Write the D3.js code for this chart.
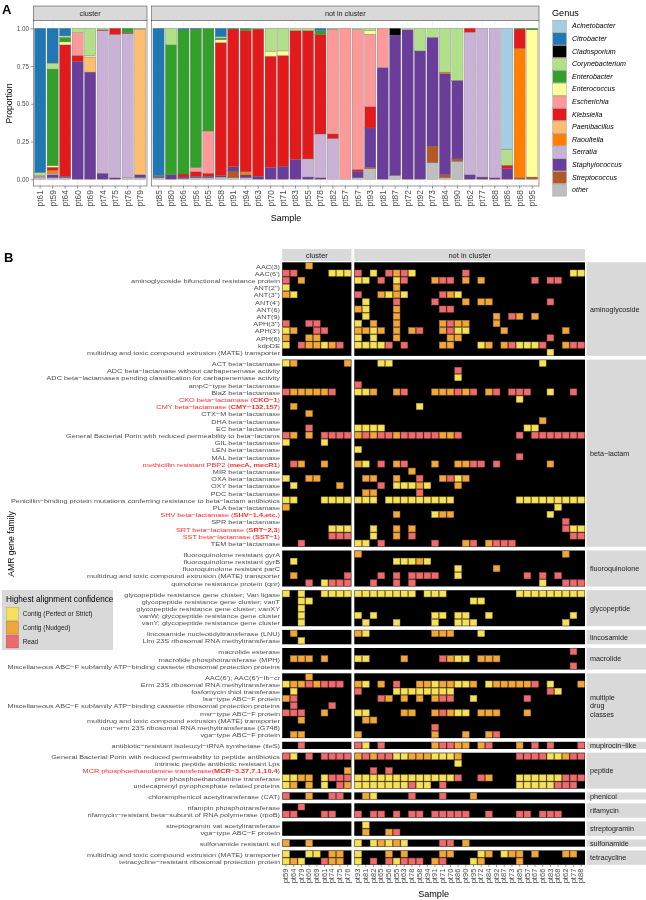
<!DOCTYPE html>
<html><head><meta charset="utf-8">
<script src="https://cdn.jsdelivr.net/npm/d3@7/dist/d3.min.js"></script>
<style>body{margin:0;background:#fff}svg{display:block;will-change:transform}</style>
</head><body><svg id="c" width="646" height="900"></svg>
<script>
// ---------------- Panel A data ----------------
const clusterSamplesA = ["pt61","pt59","pt64","pt60","pt69","pt74","pt75","pt76","pt79"];
const nonClusterSamplesA = ["pt85","pt80","pt66","pt56","pt65","pt58","pt91","pt94","pt63","pt70","pt71","pt83","pt55","pt78","pt82","pt57","pt67","pt93","pt81","pt87","pt72","pt92","pt73","pt84","pt90","pt62","pt77","pt88","pt86","pt68","pt95"];
const genera = ["Acinetobacter","Citrobacter","Cladosporium","Corynebacterium","Enterobacter","Enterococcus","Escherichia","Klebsiella","Paenibacillus","Raoultella","Serratia","Staphylococcus","Streptococcus","other"];
const genusColors = ["#A6CEE3","#1F78B4","#000000","#B2DF8A","#33A02C","#FFFF99","#FB9A99","#E31A1C","#FDBF6F","#FF7F00","#CAB2D6","#6A3D9A","#B15928","#BEBEBE"];
// proportions per sample, in the order clusterSamplesA then nonClusterSamplesA
const acinetobacter  = [0,0,0,0,0,0,0,0,0, 0,0,0,0,0,0,0,0,0,0,0,0,0,0,0,0,0,0,0,0,0,0,0,0,0,0,0,0,.80,0,0];
const citrobacter    = [.955,.23,.05,0,0,0,0,0,0, .975,0,.01,.005,0,.055,0,0,0,0,0,0,0,.015,0,0,0,0,0,0,0,0,0,0,0,0,0,0,0,0,0];
const cladosporium   = [0,0,0,0,0,0,0,0,0, 0,0,0,0,0,0,0,0,0,0,0,0,0,0,0,0,0,0,0,.045,0,0,0,0,0,0,0,0,0,0,0];
const corynebacterium= [.02,.04,.01,.03,.18,.01,0,0,.005, 0,.11,0,0,0,.01,0,0,.005,.151,.15,.015,.015,0,.005,0,.01,.015,0,0,.01,.15,.06,.29,.345,0,0,0,.107,0,0];
const enterobacter   = [0,.64,.03,0,0,0,0,.03,0, .005,.86,.955,.915,.68,.01,.005,.015,0,0,0,0,0,.025,0,0,0,0,0,0,0,0,0,0,0,0,0,0,0,.005,.01];
const enterococcus   = [0,.01,.02,0,.01,0,0,0,0, 0,0,0,0,0,.02,0,0,0,.034,.03,0,0,0,0,0,0,.025,0,0,0,0,0,0,0,0,0,0,0,0,.975];
const escherichia    = [.005,0,0,.15,0,0,0,0,0, 0,0,0,.03,.28,0,0,0,0,0,0,0,0,0,.695,1.0,.925,.48,.26,0,0,0,0,0,0,0,0,0,0,0,0];
const klebsiella     = [0,.02,.87,.04,0,.005,.04,.005,0, 0,0,.02,.03,.02,.88,.91,.935,.975,.737,.733,.854,.85,.66,.03,0,.015,.14,0,0,0,0,0,0,0,.025,0,0,.023,.128,0];
const paenibacillus  = [0,0,0,0,.10,0,0,0,.965, 0,0,0,0,0,0,0,0,0,0,0,0,0,0,0,0,0,0,0,0,0,0,0,0,0,0,0,0,0,0,0];
const raoultella     = [0,.02,0,0,0,0,0,0,0, 0,0,0,0,0,0,0,.02,0,0,0,0,0,0,0,0,0,0,0,0,0,0,0,.01,0,0,0,0,0,.857,0];
const serratia       = [.01,.01,0,0,0,.945,.95,.955,0, 0,0,0,0,0,0,0,0,0,0,0,0,.12,.29,.27,0,0,0,0,0,0,0,0,0,0,.945,.985,.99,0,0,0];
const staphylococcus = [0,.02,.01,.78,.71,.04,.01,0,.02, .01,.03,.01,.01,.01,.01,.03,.02,.02,.078,.087,.131,.015,.01,0,0,.04,.26,.74,.93,.99,.85,.72,.67,.52,.03,.015,.01,.07,0,0];
const streptococcus  = [0,0,0,0,0,0,0,0,0, 0,0,0,0,0,0,.045,0,0,0,0,0,0,0,0,0,0,.01,0,0,0,0,.11,.02,.015,0,0,0,0,.01,.015];
const otherGenus     = [.01,.01,.01,0,0,0,0,.01,.01, .01,0,.005,.01,.01,.015,.01,.01,0,0,0,0,0,0,0,0,.01,.07,0,.025,0,0,.11,.01,.12,0,0,0,0,0,0];
const genusValues = [acinetobacter,citrobacter,cladosporium,corynebacterium,enterobacter,enterococcus,escherichia,klebsiella,paenibacillus,raoultella,serratia,staphylococcus,streptococcus,otherGenus];
const yTicksA = [0,0.25,0.5,0.75,1];

// ---------------- Panel B data ----------------
const clusterSamplesB = ["pt59","pt64","pt79","pt60","pt69","pt61","pt74","pt75","pt76"];
const nonClusterSamplesB = ["pt93","pt81","pt82","pt65","pt56","pt55","pt63","pt78","pt58","pt94","pt91","pt71","pt70","pt86","pt90","pt95","pt72","pt84","pt92","pt87","pt73","pt85","pt57","pt67","pt66","pt83","pt68","pt62","pt77","pt88"];
const amrFamilies = ["aminoglycoside","beta\u2212lactam","fluoroquinolone","glycopeptide","lincosamide","macrolide","multiple\ndrug\nclasses","mupirocin\u2212like","peptide","phenicol","rifamycin","streptogramin","sulfonamide","tetracycline"];
const confidenceLevels = ["Contig (Perfect or Strict)","Contig (Nudged)","Read"];
const confidenceCodes = ["y","o","r"];
const confidenceColors = ["#F7E15B","#F1A63C","#EC6B6C"];
// [family index, gene label (**bold**), cells: 9 cluster samples then 3 groups of 10 non-cluster samples]
const amrGenes = [
 [0,"AAC(3)","...o..... .......... .......... .........."],
 [0,"AAC(6')","rr....yyy r.y.rory.. ....r..... ........yy"],
 [0,"aminoglycoside bifunctional resistance protein","r.o...... yy.r.yr... orr.o.o... ...r.rr..."],
 [0,"ANT(2'')","y........ .....o.... .......... .........."],
 [0,"ANT(3'')","oy....... r..oyoy... .roy...... .........."],
 [0,"ANT(4')","......... .y...r.... r...o.oo.. .....r...."],
 [0,"ANT(6)","......... oy...o.... .rr....... .........."],
 [0,"ANT(9)","......... .y...o.... ........o. ro.o......"],
 [0,"APH(3'')","r..rr.... y.o..o.... .oroo...o. .........."],
 [0,"APH(3')","yo..rr... ooyo.o.or. .oryy....o .......o.."],
 [0,"APH(6)","o..oo.... y.y..o.... ..oo...... .....r...."],
 [0,"kdpDE","y.rooyor. yyyyr.r... .oo...yo.o ryyyr..orr"],
 [0,"multidrug and toxic compound extrusion (MATE) transporter","......... .......... .......... .....y...."],
 [1,"ACT beta\u2212lactamase","yo......o ...yy..... .......... ....y....."],
 [1,"ADC beta\u2212lactamase without carbapenemase activity","......... .......... ...r...... .........."],
 [1,"ADC beta\u2212lactamases pending classification for carbapenemase activity","......... .......... ...y...... .........."],
 [1,"ampC\u2212type beta\u2212lactamase","......... r......... .......... .........."],
 [1,"BlaZ beta\u2212lactamase","rooooor.. yyo..or... oooror.or. rrr..y..r."],
 [1,"CKO beta\u2212lactamase (**CKO\u22121**)","......... .......... .......... .y........"],
 [1,"CMY beta\u2212lactamase (**CMY\u2212132,157**)",".o....... ........y. .......... .........."],
 [1,"CTX\u2212M beta\u2212lactamase","...o..... .......... .......... .........."],
 [1,"DHA beta\u2212lactamase","......... .......... .......... ....o....."],
 [1,"EC beta\u2212lactamase","...r..... yyyy...... .......... ..yy......"],
 [1,"General Bacterial Porin with reduced permeability to beta\u2212lactams","ro.o.rrrr ororrorrrr roor...... .r.rrrrrrr"],
 [1,"GIL beta\u2212lactamase","y....y... .......... .......... .........."],
 [1,"LEN beta\u2212lactamase","......... y......... .......... .........."],
 [1,"MAL beta\u2212lactamase","......... .......... .......... .r........"],
 [1,"methicillin resistant PBP2 (**mecA, mecR1**)",".ro..o... oy.r.or... o..oorr.r. .....o...."],
 [1,"MIR beta\u2212lactamase","......... .......o.. .......... .........."],
 [1,"OXA beta\u2212lactamase","y..oo.... .oo..o..r. .oryo..... .........."],
 [1,"OXY beta\u2212lactamase",".y.....o. ...r.yyyoy ...o...... .........."],
 [1,"PDC beta\u2212lactamase","......... .oo.....r. .......... .........."],
 [1,"Penicillin\u2212binding protein mutations conferring resistance to beta\u2212lactam antibiotics","yy...yyyy yyy.yyyyyy yyy....... .yyyyyyyyy"],
 [1,"PLA beta\u2212lactamase","o........ .......... .......... ......y..."],
 [1,"SHV beta\u2212lactamase (**SHV\u22121,4,etc.**)","......... .....o.... yoo....... .....y...."],
 [1,"SPR beta\u2212lactamase","......... .......... .......... .......r.."],
 [1,"SRT beta\u2212lactamase (**SRT\u22122,3**)","......yyy ..y..o.o.. .......... .......ryy"],
 [1,"SST beta\u2212lactamase (**SST\u22121**)","......rrr ..y..o.r.. .......... ........rr"],
 [1,"TEM beta\u2212lactamase","..r...... yy.r...... r...or.orr r........."],
 [2,"fluoroquinolone resistant gyrA","......... o......... .......... .......o.."],
 [2,"fluoroquinolone resistant gyrB",".y....... .....yyyoy .......... .........."],
 [2,"fluoroquinolone resistant parC","......... .......... ...y....o. .........."],
 [2,"multidrug and toxic compound extrusion (MATE) transporter",".o......r ...r.r.rrr r..y...... ..r.r.r..."],
 [2,"quinolone resistance protein (qnr)","...r.yrrr ..r..r.r.. .......... ....y..rrr"],
 [3,"glycopeptide resistance gene cluster; Van ligase","y.y..yyyy yyyyyyyy.y yy........ .yyyyyyyyy"],
 [3,"glycopeptide resistance gene cluster; vanT","..yy..... .......... .....yy... .........."],
 [3,"glycopeptide resistance gene cluster; vanXY","..y...... .......... .......... .........."],
 [3,"vanW; glycopeptide resistance gene cluster","..y...... y.y....... yy.yy..y.. ........y."],
 [3,"vanY; glycopeptide resistance gene cluster","..y...... .y...y.... y..yyy.... .......y.."],
 [4,"lincosamide nucleotidyltransferase (LNU)",".o....... oy........ ooo...y... .........."],
 [4,"Llm 23S ribosomal RNA methyltransferase","..y...... .......... .......... .........."],
 [5,"macrolide esterase","......... .......... .......... ........r."],
 [5,"macrolide phosphotransferase (MPH)",".ooo.o... yy....o... .royy.ooo. .........."],
 [5,"Miscellaneous ABC\u2212F subfamily ATP\u2212binding cassette ribosomal protection proteins","......... .......... .......... ........r."],
 [6,"AAC(6'); AAC(6')\u2212Ib\u2212cr","...o..... .......... .......... .........."],
 [6,"Erm 23S ribosomal RNA methyltransferase","yoororrr. oy.o.r..oo yooyyo.yoo ooor.y...o"],
 [6,"fosfomycin thiol transferase",".y....... r....yyyyy yyy....... .....ry..."],
 [6,"lsa\u2212type ABC\u2212F protein","or....... ...ro.o.o. orr..y.... ..r......."],
 [6,"Miscellaneous ABC\u2212F subfamily ATP\u2212binding cassette ribosomal protection proteins",".r....r.. .......... .......... .........."],
 [6,"msr\u2212type ABC\u2212F protein","rrr..o... yy....oo.. oroyy.ooo. ..o......."],
 [6,"multidrug and toxic compound extrusion (MATE) transporter","..o...... .oo....... .......... .........."],
 [6,"non\u2212erm 23S ribosomal RNA methyltransferase (G748)","......... .......... r......... .........."],
 [6,"vga\u2212type ABC\u2212F protein",".oo...... o......... o...o..or. .........."],
 [7,"antibiotic\u2212resistant isoleucyl\u2212tRNA synthetase (ileS)","..r...... ry.r...... orroo.or.. .o.r.r...r"],
 [8,"General Bacterial Porin with reduced permeability to peptide antibiotics","ry.r.rrrr ororryyooo yyyo...... .rrrryyorr"],
 [8,"intrinsic peptide antibiotic resistant Lps","......... .......... ...y...... .........."],
 [8,"MCR phosphoethanolamine transferase(**MCR\u22123.37,7.1,10.4**)","........o ..r.r..... .......... .........."],
 [8,"pmr phosphoethanolamine transferase","yyoo.yrrr yyyyyyyyyy yyyr..ro.. .yyyyyyrrr"],
 [8,"undecaprenyl pyrophosphate related proteins","yo.o.y.ro yyyyyyyryy .r........ .yyyyyrrr."],
 [9,"chloramphenicol acetyltransferase (CAT)","r..o..rr. .oy....r.. .r...o.... .........."],
 [10,"rifampin phosphotransferase","..r...... .......... .......... .........."],
 [10,"rifamycin\u2212resistant beta\u2212subunit of RNA polymerase (rpoB)","rr...rr.. r.rr.r.rr. rrrrr..r.. .rr.rrr..."],
 [11,"streptogramin vat acetyltransferase","......... .y........ .......... .........."],
 [11,"vga\u2212type ABC\u2212F protein","......... .o..or.... .......... .........."],
 [12,"sulfonamide resistant sul","o..o..... y.yoyoy... .rr.o..... .........."],
 [13,"multidrug and toxic compound extrusion (MATE) transporter","y..yy.oo. y...o.o... .oo...yo.y oo.o...oo."],
 [13,"tetracycline\u2212resistant ribosomal protection protein","yoy..roo. y.r.ryrrr. or...yo... .o........"]
];

// ---------------- Drawing ----------------
const FONT = "'Liberation Sans', Arial, Helvetica, sans-serif";
const svg = d3.select("#c").attr("font-family", FONT);

// ===== Panel A =====
const samplesA = clusterSamplesA.concat(nonClusterSamplesA);
const tableA = samplesA.map((s, i) => {
  const o = {sample: s};
  genera.forEach((g, k) => o[g] = genusValues[k][i]);
  return o;
});
const seriesA = d3.stack().keys(genera.slice().reverse()).offset(d3.stackOffsetExpand)(tableA);
const colorA = d3.scaleOrdinal().domain(genera).range(genusColors);
const yA = d3.scaleLinear().domain([0, 1]).range([179.3, 28.3]);
const panelTopA = 20.3, panelBotA = 186;

svg.append("text").attr("x", 2).attr("y", 14).attr("font-size", 13).attr("font-weight", "bold").text("A");

const facetsA = [
  {label: "cluster", samples: clusterSamplesA, range: [33.3, 147]},
  {label: "not in cluster", samples: nonClusterSamplesA, range: [151.7, 539]}
];
facetsA.forEach((f, fi) => {
  const [x0, x1] = f.range;
  const x = d3.scaleBand().domain(f.samples).range(f.range).paddingInner(0.1).paddingOuter(0.1);
  const g = svg.append("g");
  g.append("rect").attr("x", x0).attr("y", 6).attr("width", x1 - x0).attr("height", panelTopA - 6)
    .attr("fill", "#D9D9D9").attr("stroke", "#333").attr("stroke-width", 0.5);
  g.append("text").attr("x", (x0 + x1) / 2).attr("y", 13.2).attr("text-anchor", "middle")
    .attr("dominant-baseline", "central").attr("font-size", 7.2).attr("fill", "#1A1A1A").text(f.label);
  g.append("rect").attr("x", x0).attr("y", panelTopA).attr("width", x1 - x0).attr("height", panelBotA - panelTopA).attr("fill", "#fff");
  [0.125, 0.375, 0.625, 0.875].forEach(v => g.append("line").attr("x1", x0).attr("x2", x1).attr("y1", yA(v)).attr("y2", yA(v)).attr("stroke", "#F2F2F2").attr("stroke-width", 0.3));
  yTicksA.forEach(v => g.append("line").attr("x1", x0).attr("x2", x1).attr("y1", yA(v)).attr("y2", yA(v)).attr("stroke", "#EBEBEB").attr("stroke-width", 0.6));
  f.samples.forEach(s => g.append("line").attr("x1", x(s) + x.bandwidth() / 2).attr("x2", x(s) + x.bandwidth() / 2)
    .attr("y1", panelTopA).attr("y2", panelBotA).attr("stroke", "#EBEBEB").attr("stroke-width", 0.6));
  seriesA.forEach(ser => {
    ser.forEach((d, i) => {
      const s = samplesA[i];
      if (!f.samples.includes(s) || d[1] - d[0] <= 0) return;
      g.append("rect").attr("x", x(s)).attr("width", x.bandwidth())
        .attr("y", yA(d[1])).attr("height", yA(d[0]) - yA(d[1]))
        .attr("fill", colorA(ser.key)).attr("stroke", "#6b6b6b").attr("stroke-width", 0.3);
    });
  });
  g.append("rect").attr("x", x0).attr("y", panelTopA).attr("width", x1 - x0).attr("height", panelBotA - panelTopA)
    .attr("fill", "none").attr("stroke", "#333").attr("stroke-width", 0.5);
  const ax = g.append("g").attr("transform", `translate(0,${panelBotA})`)
    .call(d3.axisBottom(x).tickSize(2.7).tickSizeOuter(0));
  ax.select(".domain").remove();
  ax.selectAll("line").attr("stroke", "#333").attr("stroke-width", 0.5);
  ax.selectAll("text").attr("transform", "rotate(-90)").attr("text-anchor", "end")
    .attr("x", -4.2).attr("y", 0).attr("dy", "0.35em").attr("font-size", 8.4).attr("fill", "#4D4D4D").attr("font-family", FONT);
  if (fi === 0) {
    const ay = g.append("g").attr("transform", `translate(${x0},0)`)
      .call(d3.axisLeft(yA).tickValues(yTicksA).tickFormat(d3.format(".2f")).tickSize(2.7).tickSizeOuter(0));
    ay.select(".domain").remove();
    ay.selectAll("line").attr("stroke", "#333").attr("stroke-width", 0.5);
    ay.selectAll("text").attr("font-size", 6.3).attr("fill", "#4D4D4D").attr("font-family", FONT).attr("x", -4.2);
  }
});
svg.append("text").attr("transform", "translate(9,103.5) rotate(-90)").attr("text-anchor", "middle")
  .attr("dominant-baseline", "central").attr("font-size", 8.7).text("Proportion");
svg.append("text").attr("x", 286).attr("y", 221).attr("text-anchor", "middle").attr("font-size", 9).text("Sample");

// legend A
const legA = svg.append("g");
legA.append("text").attr("x", 552).attr("y", 16).attr("font-size", 9.1).text("Genus");
genera.forEach((gn, i) => {
  const yy = 20 + i * 12.6;
  legA.append("rect").attr("x", 552.8).attr("y", yy + 0.3).attr("width", 13.6).attr("height", 12)
    .attr("fill", colorA(gn)).attr("stroke", "#8c8c8c").attr("stroke-width", 0.4);
  legA.append("text").attr("x", 572).attr("y", yy + 6.3).attr("dominant-baseline", "central")
    .attr("font-size", 7.1).attr("font-style", "italic").text(gn);
});

// ===== Panel B =====
svg.append("text").attr("x", 4).attr("y", 262).attr("font-size", 13).attr("font-weight", "bold").text("B");
const xC = d3.scaleBand().domain(clusterSamplesB).range([282.2, 351.4]);
const xN = d3.scaleBand().domain(nonClusterSamplesB).range([354.3, 585]);
const facetsB = [{label: "cluster", x: xC}, {label: "not in cluster", x: xN}];
const colorB = d3.scaleOrdinal().domain(confidenceCodes).range(confidenceColors);
const topB = 262.3, rowH = 7.2, famGap = 3.7, stripX0 = 586.5;

facetsB.forEach(f => {
  const [a, b] = f.x.range();
  svg.append("rect").attr("x", a).attr("y", 249).attr("width", b - a).attr("height", 12).attr("fill", "#D9D9D9");
  svg.append("text").attr("x", (a + b) / 2).attr("y", 255).attr("text-anchor", "middle").attr("dominant-baseline", "central")
    .attr("font-size", 7.5).attr("fill", "#1A1A1A").text(f.label);
});

function addLabel(sel, label) {
  const parts = label.split("**");
  parts.forEach((p, i) => {
    if (!p) return;
    const t = sel.append("tspan").text(p);
    if (i % 2 === 1) t.attr("font-weight", "bold");
  });
}

let yCur = topB;
amrFamilies.forEach((fam, fi) => {
  const rows = amrGenes.filter(r => r[0] === fi);
  const h = rows.length * rowH;
  const y = d3.scaleBand().domain(d3.range(rows.length)).range([yCur, yCur + h]);
  facetsB.forEach(f => {
    const [a, b] = f.x.range();
    svg.append("rect").attr("x", a).attr("y", yCur).attr("width", b - a).attr("height", h).attr("fill", "#000");
  });
  svg.append("rect").attr("x", stripX0).attr("y", yCur).attr("width", 646 - stripX0).attr("height", h).attr("fill", "#D9D9D9");
  const lines = fam.split("\n");
  const st = svg.append("text").attr("font-size", 7.2).attr("fill", "#1A1A1A");
  lines.forEach((ln, li) => {
    st.append("tspan").attr("x", 590).attr("y", yCur + h / 2 + (li - (lines.length - 1) / 2) * 8.5).attr("dominant-baseline", "central").text(ln);
  });
  rows.forEach((r, ri) => {
    const label = r[1];
    const red = label.includes("**");
    const t = svg.append("text")
      .attr("transform", `translate(280,${y(ri) + rowH / 2}) scale(1.2,1)`)
      .attr("x", 0).attr("y", 0).attr("text-anchor", "end")
      .attr("dominant-baseline", "central").attr("font-size", 6.1).attr("fill", red ? "#FF2B2B" : "#4D4D4D");
    addLabel(t, label);
    const cells = r[2].replace(/ /g, "");
    cells.split("").forEach((c, ci) => {
      if (c === ".") return;
      const inC = ci < clusterSamplesB.length;
      const xs = inC ? xC : xN;
      const s = inC ? clusterSamplesB[ci] : nonClusterSamplesB[ci - clusterSamplesB.length];
      const col = colorB(c);
      svg.append("rect").attr("x", xs(s) + 0.5).attr("y", y(ri) + 0.5).attr("width", xs.bandwidth() - 1).attr("height", rowH - 1)
        .attr("fill", col).attr("stroke", d3.color(col).darker(0.8)).attr("stroke-width", 0.5);
    });
  });
  yCur += h + famGap;
});
const botB = yCur - famGap;
facetsB.forEach(f => {
  const ax = svg.append("g").attr("transform", `translate(0,${botB})`).call(d3.axisBottom(f.x).tickSize(2.2).tickSizeOuter(0));
  ax.select(".domain").remove();
  ax.selectAll("line").attr("stroke", "#333").attr("stroke-width", 0.5);
  ax.selectAll("text").attr("transform", "rotate(-90) scale(1.2,1)").attr("text-anchor", "end")
    .attr("x", -3.2).attr("y", 0).attr("dy", "0.35em").attr("font-size", 6.3).attr("fill", "#4D4D4D").attr("font-family", FONT);
});
svg.append("text").attr("x", 433.6).attr("y", 897).attr("text-anchor", "middle").attr("font-size", 9.1).text("Sample");
svg.append("text").attr("transform", "translate(11,544) rotate(-90)").attr("text-anchor", "middle")
  .attr("dominant-baseline", "central").attr("font-size", 8.6).text("AMR gene family");

// legend B
const legB = svg.append("g");
legB.append("rect").attr("x", 2).attr("y", 590).attr("width", 111).attr("height", 60).attr("fill", "#D9D9D9");
legB.append("text").attr("x", 6).attr("y", 599.5).attr("dominant-baseline", "central").attr("font-size", 8.2).text("Highest alignment confidence");
confidenceLevels.forEach((lv, i) => {
  const yy = 607 + i * 13.9;
  const col = confidenceColors[i];
  legB.append("rect").attr("x", 6.3).attr("y", yy + 0.3).attr("width", 12).attr("height", 12.8)
    .attr("fill", col).attr("stroke", d3.color(col).darker(0.8)).attr("stroke-width", 0.5);
  legB.append("text").attr("x", 22.7).attr("y", yy + 6.7).attr("dominant-baseline", "central").attr("font-size", 6.5).attr("fill", "#1A1A1A").text(lv);
});
</script></body></html>
